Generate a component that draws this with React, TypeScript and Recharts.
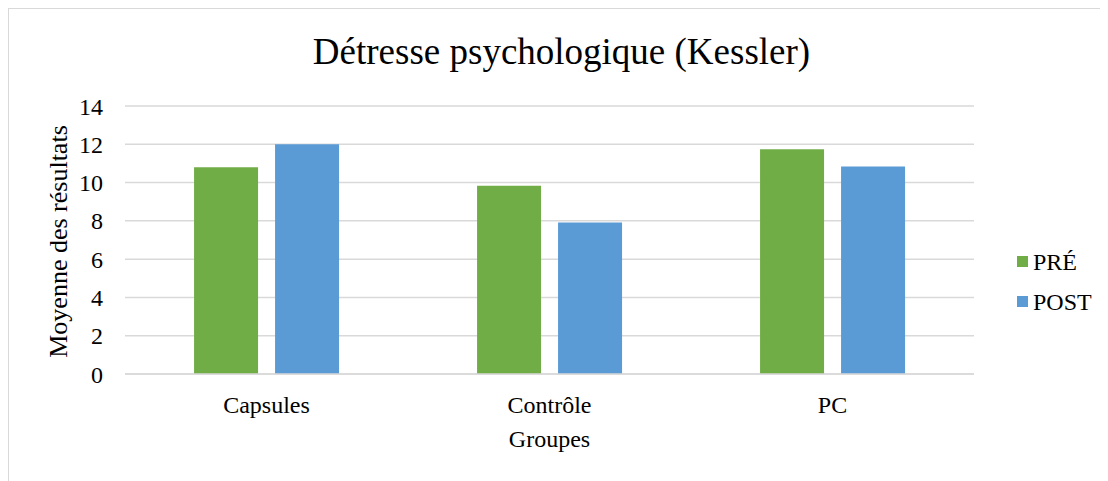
import React from 'react';
import { BarChart, Bar, XAxis, YAxis, CartesianGrid } from 'recharts';

// Groups compared and their mean Kessler scores before / after
const groups = ['Capsules', 'Contrôle', 'PC'];
const preValues = [10.8, 9.83, 11.74];
const postValues = [12.0, 7.92, 10.84];
const yTicks = [0, 2, 4, 6, 8, 10, 12, 14];

const series = [
  { key: 'pre', name: 'PRÉ', color: '#70AD47' },
  { key: 'post', name: 'POST', color: '#5B9BD5' },
];

const titleText = 'Détresse psychologique (Kessler)';
const yLabelText = 'Moyenne des résultats';
const xLabelText = 'Groupes';

const data = groups.map((g, i) => ({ group: g, pre: preValues[i], post: postValues[i] }));

const FONT = '"Liberation Serif", "Times New Roman", serif';
const CHART_W = 1100;
const CHART_H = 472;

export default function App() {
  return (
    <div
      style={{
        position: 'relative',
        width: CHART_W + 20,
        height: 480,
        border: '1px solid #d9d9d9',
        boxSizing: 'content-box',
        background: '#fff',
        fontFamily: FONT,
      }}
    >
      <BarChart
        width={CHART_W}
        height={CHART_H}
        data={data}
        margin={{ top: 97, right: 135, bottom: 77, left: 56 }}
        barCategoryGap="24.4%"
        barGap={17}
      >
        <CartesianGrid vertical={false} stroke="#d9d9d9" strokeWidth={1.5} />
        <XAxis
          dataKey="group"
          height={30}
          tickLine={false}
          tickSize={0}
          tickMargin={22}
          axisLine={{ stroke: '#d9d9d9', strokeWidth: 1.5 }}
          tick={{ fill: '#000', fontSize: 24, fontFamily: FONT }}
          interval={0}
        />
        <YAxis
          width={60}
          domain={[0, 14]}
          ticks={yTicks}
          tickLine={false}
          axisLine={false}
          tickSize={0}
          tickMargin={22}
          tick={{ fill: '#000', fontSize: 24, fontFamily: FONT }}
        />
        {series.map((s) => (
          <Bar
            key={s.key}
            dataKey={s.key}
            name={s.name}
            fill={s.color}
            isAnimationActive={false}
          />
        ))}
      </BarChart>
      <svg
        width={CHART_W}
        height={CHART_H}
        style={{ position: 'absolute', left: 0, top: 0, pointerEvents: 'none' }}
      >
        <text
          x={552.5}
          y={55}
          textAnchor="middle"
          fontSize={37}
          fontFamily={FONT}
          fill="#000"
        >
          {titleText}
        </text>
        <text
          transform="translate(58, 232.5) rotate(-90)"
          textAnchor="middle"
          fontSize={26}
          fontFamily={FONT}
          fill="#000"
        >
          {yLabelText}
        </text>
        <text
          x={540.5}
          y={438}
          textAnchor="middle"
          fontSize={24}
          fontFamily={FONT}
          fill="#000"
        >
          {xLabelText}
        </text>
        {series.map((s, i) => (
          <g key={s.key}>
            <rect x={1008} y={247 + i * 40} width={11} height={11} fill={s.color} />
            <text
              x={1024}
              y={261 + i * 40}
              fontSize={24}
              fontFamily={FONT}
              fill="#000"
            >
              {s.name}
            </text>
          </g>
        ))}
      </svg>
    </div>
  );
}
